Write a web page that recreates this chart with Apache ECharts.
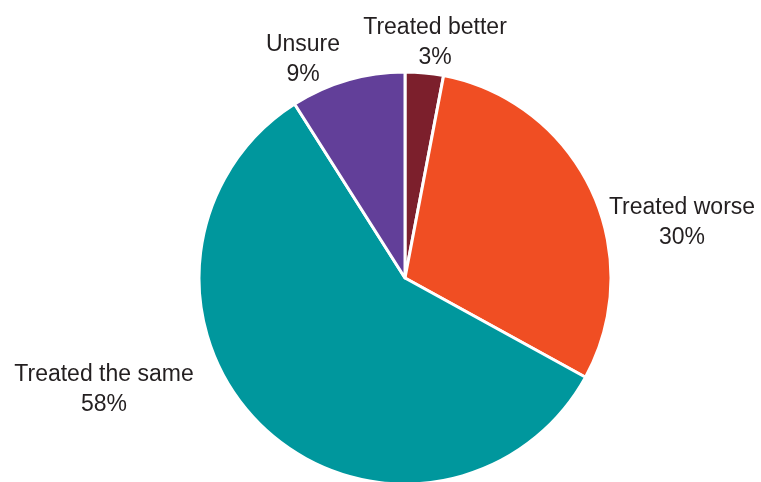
<!DOCTYPE html>
<html>
<head>
<meta charset="utf-8">
<script src="https://cdn.jsdelivr.net/npm/echarts@6/dist/echarts.min.js"></script>
<style>
  html, body { margin: 0; padding: 0; background: #ffffff; }
  #chart { width: 761px; height: 482px; }
</style>
</head>
<body>
<div id="chart"></div>
<script>
// Survey responses, clockwise from twelve o'clock
const categories = ['Treated better', 'Treated worse', 'Treated the same', 'Unsure'];
const shares = [3, 30, 58, 9];
const sliceColors = ['#7C1F2C', '#F04E23', '#00979D', '#623F99'];

// Where each two-line label sits (centre of the text block)
const labelSpots = [[435, 43], [682, 223], [104, 390], [303, 60]];

const chart = echarts.init(document.getElementById('chart'), null, { renderer: 'canvas' });

chart.setOption({
  animation: false,
  backgroundColor: '#ffffff',
  series: [{
    type: 'pie',
    center: [405, 278],
    radius: 206,
    startAngle: 90,
    clockwise: true,
    avoidLabelOverlap: false,
    itemStyle: { borderColor: '#ffffff', borderWidth: 3 },
    label: {
      show: true,
      position: 'outside',
      formatter: p => p.name + '\n' + p.value + '%',
      fontFamily: 'Liberation Sans, Arial, Helvetica, sans-serif',
      fontSize: 23,
      lineHeight: 30,
      color: '#231F20',
      align: 'center'
    },
    labelLine: { show: false },
    labelLayout: params => ({
      x: labelSpots[params.dataIndex][0],
      y: labelSpots[params.dataIndex][1],
      align: 'center',
      verticalAlign: 'middle'
    }),
    emphasis: { disabled: true },
    data: categories.map((name, i) => ({
      name: name,
      value: shares[i],
      itemStyle: { color: sliceColors[i] }
    }))
  }]
});
</script>
</body>
</html>
